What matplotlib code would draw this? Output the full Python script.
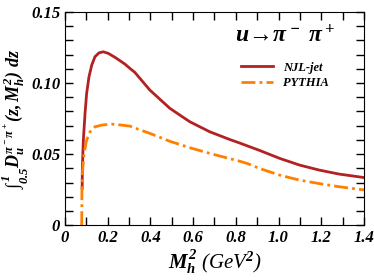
import numpy as np
import matplotlib.pyplot as plt
from matplotlib.ticker import MultipleLocator

plt.rcParams['font.family'] = 'Liberation Serif'
plt.rcParams['font.weight'] = 'bold'
plt.rcParams['font.style'] = 'italic'
plt.rcParams['mathtext.fontset'] = 'custom'
plt.rcParams['mathtext.rm'] = 'Liberation Serif:bold:italic'
plt.rcParams['mathtext.it'] = 'Liberation Serif:bold:italic'
plt.rcParams['mathtext.bf'] = 'Liberation Serif:bold:italic'

# NJL-jet curve
njl_x = [0.080, 0.081, 0.0857, 0.0935, 0.101, 0.112, 0.125, 0.140, 0.159, 0.179,
         0.2025, 0.234, 0.280, 0.304, 0.327, 0.397, 0.491, 0.584, 0.678, 0.771,
         0.818, 0.857, 0.911, 1.005, 1.098, 1.192, 1.285, 1.40]
njl_y = [0.026, 0.041, 0.060, 0.0787, 0.0927, 0.1044, 0.1127, 0.1185, 0.1213, 0.122,
         0.1209, 0.1181, 0.1134, 0.1103, 0.1075, 0.0951, 0.0822, 0.0728, 0.0657, 0.0603,
         0.0578, 0.0556, 0.0526, 0.047, 0.0423, 0.0387, 0.0359, 0.0335]

# PYTHIA curve
py_x = [0.078, 0.079, 0.081, 0.089, 0.101, 0.117, 0.140, 0.171, 0.218, 0.265,
        0.304, 0.319, 0.397, 0.491, 0.584, 0.678, 0.771, 0.818, 0.857, 0.911,
        1.005, 1.098, 1.192, 1.285, 1.40]
py_y = [0.0, 0.025, 0.0364, 0.0505, 0.0599, 0.0657, 0.0692, 0.0704, 0.0711, 0.0704,
        0.0697, 0.0688, 0.0646, 0.0590, 0.0545, 0.0505, 0.0468, 0.0450, 0.0432, 0.0399,
        0.0352, 0.0317, 0.0292, 0.027, 0.0248]

fig = plt.figure(figsize=(3.74, 2.80), dpi=100)
ax = fig.add_axes([0.174, 0.196, 0.799, 0.761])

ax.plot(njl_x, njl_y, color='#b22222', lw=2, label='NJL-jet')
ax.plot(py_x, py_y, color='#ff8000', lw=2, ls=(0, (5, 1.5, 1, 1.5)), label='PYTHIA')

ax.set_xlim(0, 1.4)
ax.set_ylim(0, 0.15)
ax.xaxis.set_minor_locator(MultipleLocator(0.1))
ax.yaxis.set_minor_locator(MultipleLocator(0.01))
ax.tick_params(which='both', direction='in', top=True, right=True, labelsize=12,
               length=6, width=1)
ax.set_xticks([0, 0.2, 0.4, 0.6, 0.8, 1.0, 1.2, 1.4])
ax.set_xticklabels(['0', '0.2', '0.4', '0.6', '0.8', '1.0', '1.2', '1.4'])
ax.set_yticks([0, 0.05, 0.10, 0.15])
ax.set_yticklabels(['0', '0.05', '0.10', '0.15'])

ax.set_xlabel(r'$M_h^2$ (GeV$^2$)', fontsize=15, labelpad=2)
ax.set_ylabel(r'$\int_{0.5}^{1} D_u^{\pi^-\pi^+}(z, M_h^2)\ dz$', fontsize=13)
ax.yaxis.set_label_coords(-0.113, 0.5)

ax.text(0.57, 0.86, r'$u\!\rightarrow\!\pi^-\ \pi^+$', transform=ax.transAxes, fontsize=17)
ax.legend(loc='upper left', bbox_to_anchor=(0.55, 0.82), frameon=False, fontsize=9,
          handlelength=2.6, handletextpad=0.8, labelspacing=0.3)

fig.savefig('out.png', dpi=100)
